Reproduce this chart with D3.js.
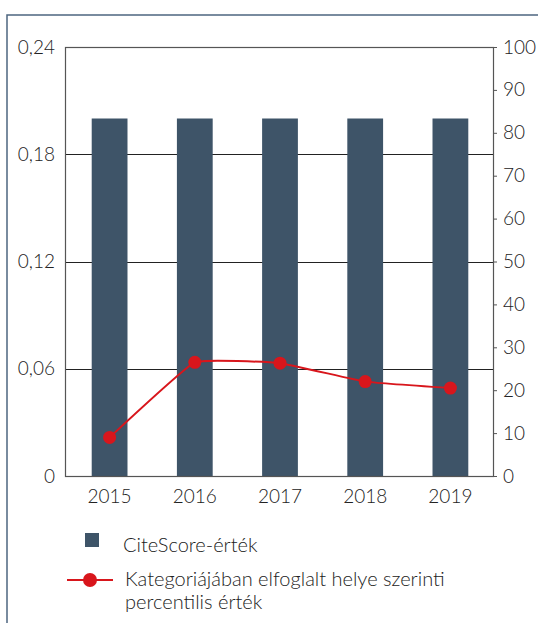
<!DOCTYPE html>
<html>
<head>
<meta charset="utf-8">
<script src="https://cdn.jsdelivr.net/npm/d3@7/dist/d3.min.js"></script>
<style>
  html, body { margin: 0; padding: 0; background: #fff; }
  svg { display: block; }
  text { font-family: Lato, "Open Sans", sans-serif; fill: #222; font-weight: 300; }
</style>
</head>
<body>
<svg id="chart" width="538" height="623"></svg>
<script>
// ---- data ----
const years = ["2015", "2016", "2017", "2018", "2019"];
const citeScore = [0.20, 0.20, 0.20, 0.20, 0.20];
const percentile = [9.0, 26.5, 26.3, 22.0, 20.5];
const leftTicks = [0, 0.06, 0.12, 0.18, 0.24];
const leftTickLabels = ["0", "0,06", "0,12", "0,18", "0,24"];
const rightTicks = [0, 10, 20, 30, 40, 50, 60, 70, 80, 90, 100];
const legendLabels = ["CiteScore-érték", ["Kategoriájában elfoglalt helye szerinti", "percentilis érték"]];

// ---- layout ----
const svg = d3.select("#chart");
const plot = { left: 65, right: 493, top: 47, bottom: 476 };
const barColor = "#3e5468";
const red = "#d8161c";

// outer frame
svg.append("path")
  .attr("d", `M7,640 L7,15 L560,15`)
  .attr("fill", "none").attr("stroke", "#4d6680").attr("stroke-width", 1.5);

const x = d3.scaleBand().domain(years).range([67, plot.right]).paddingInner(0.58).paddingOuter(0.29);
const yL = d3.scaleLinear().domain([0, 0.24]).range([plot.bottom, plot.top]);
const yR = d3.scaleLinear().domain([0, 100]).range([plot.bottom, plot.top]);

// gridlines
svg.append("g").selectAll("line").data(leftTicks.slice(1, -1)).join("line")
  .attr("x1", plot.left).attr("x2", plot.right)
  .attr("y1", d => Math.round(yL(d)) + 0.5).attr("y2", d => Math.round(yL(d)) + 0.5)
  .attr("stroke", "#222").attr("stroke-width", 1);

// bars
svg.append("g").selectAll("rect").data(years).join("rect")
  .attr("x", d => x(d))
  .attr("width", x.bandwidth())
  .attr("y", (d, i) => yL(citeScore[i]))
  .attr("height", (d, i) => yL(0) - yL(citeScore[i]))
  .attr("fill", barColor);

// plot border
svg.append("rect")
  .attr("x", plot.left + 0.5).attr("y", plot.top + 0.5)
  .attr("width", plot.right - plot.left).attr("height", plot.bottom - plot.top)
  .attr("fill", "none").attr("stroke", "#555").attr("stroke-width", 1.2);

const styleText = sel => sel.style("font-size", "19px").style("font-family", "Lato, sans-serif")
  .style("font-weight", "300").attr("fill", "#222");

// left axis
const axL = svg.append("g").attr("transform", `translate(${plot.left},0)`)
  .call(d3.axisLeft(yL).tickValues(leftTicks).tickSize(0).tickPadding(10)
    .tickFormat((d, i) => leftTickLabels[i]));
axL.select(".domain").remove();
styleText(axL.selectAll("text"));

// right axis
const axR = svg.append("g").attr("transform", `translate(${plot.right},0)`)
  .call(d3.axisRight(yR).tickValues(rightTicks).tickSize(4).tickPadding(6));
axR.select(".domain").remove();
axR.selectAll("line").attr("stroke", "#555");
styleText(axR.selectAll("text"));

// x axis labels
const axB = svg.append("g").attr("transform", `translate(0,${plot.bottom})`)
  .call(d3.axisBottom(x).tickSize(0).tickPadding(14));
axB.select(".domain").remove();
styleText(axB.selectAll("text"));

// line
const cx = d => x(d) + x.bandwidth() / 2;
const line = d3.line().x((d, i) => cx(years[i])).y(d => yR(d)).curve(d3.curveCardinal.tension(0.7));
svg.append("path").datum(percentile).attr("d", line)
  .attr("fill", "none").attr("stroke", red).attr("stroke-width", 2);
svg.append("g").selectAll("circle").data(percentile).join("circle")
  .attr("cx", (d, i) => cx(years[i])).attr("cy", d => yR(d)).attr("r", 6.5).attr("fill", red);

// legend
const lg = svg.append("g");
lg.append("rect").attr("x", 85).attr("y", 533).attr("width", 14).attr("height", 14).attr("fill", barColor);
lg.append("text").attr("x", 123).attr("y", 552).style("font-size", "20px").text(legendLabels[0]);
lg.append("line").attr("x1", 67).attr("x2", 113).attr("y1", 580).attr("y2", 580)
  .attr("stroke", red).attr("stroke-width", 2);
lg.append("circle").attr("cx", 90).attr("cy", 580).attr("r", 7).attr("fill", red);
lg.append("text").attr("x", 125).attr("y", 586).style("font-size", "20px").text(legendLabels[1][0]);
lg.append("text").attr("x", 125).attr("y", 609).style("font-size", "20px").text(legendLabels[1][1]);
</script>
</body>
</html>
